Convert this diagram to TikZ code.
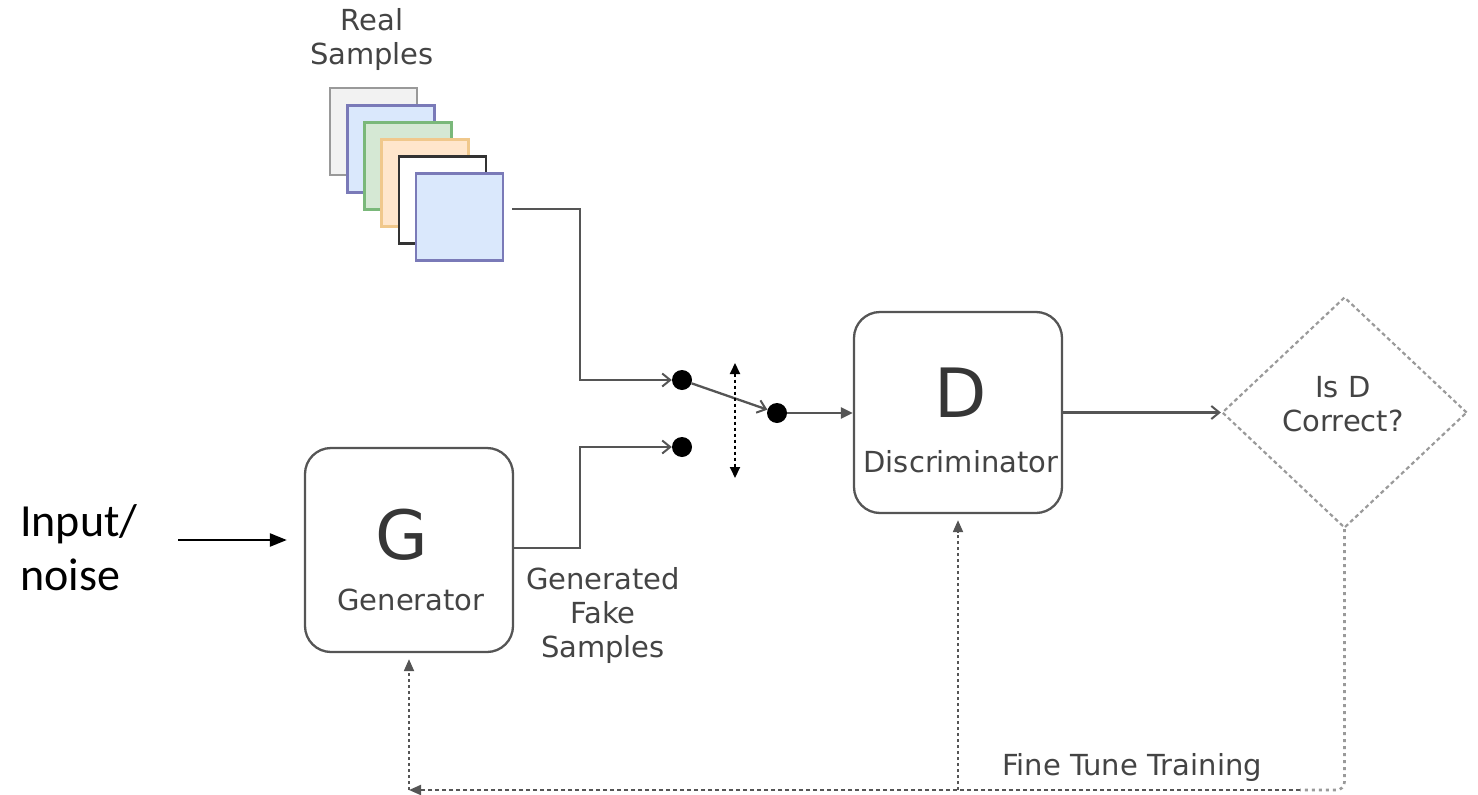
\documentclass[tikz,border=0pt]{standalone}
\usepackage{fontspec}
\setmainfont{DejaVu Sans}
\newfontfamily\calibfont{Carlito}
\usetikzlibrary{shapes.geometric,arrows.meta,calc}
\definecolor{txtgray}{HTML}{444444}
\definecolor{linegray}{HTML}{555555}
\definecolor{fbgray}{HTML}{9A9A9A}
\newcommand\lblfont{\fontsize{29}{34}\selectfont}
\tikzset{
  sq/.style={draw, line width=2.2pt, minimum width=87pt, minimum height=87pt, inner sep=0pt},
  block/.style={draw=linegray, line width=2.3pt, rounded corners=26pt, fill=white, inner sep=0pt},
  lbl/.style={text=txtgray, font=\lblfont, align=center, inner sep=0pt},
  big/.style={text=txtgray!80!black, font=\fontsize{68}{68}\selectfont, inner sep=0pt},
  inlbl/.style={anchor=base west, inner sep=0pt, font=\calibfont\fontsize{46}{46}\selectfont},
  dot/.style={circle, fill=black, minimum size=20pt, inner sep=0pt},
  conn/.style={draw=linegray, line width=2.3pt},
  openarr/.style={-{Straight Barb[length=8pt,width=13pt,line width=2pt]}},
  fillarr/.style={-{Triangle[length=12pt,width=11pt]}},
  fb/.style={draw=linegray, line width=2pt, dash pattern=on 4pt off 3pt},
  fblight/.style={draw=fbgray, line width=2.6pt, dash pattern=on 3pt off 4pt},
}
\begin{document}
\begin{tikzpicture}[x=1pt,y=-1pt]
\useasboundingbox (0,0) rectangle (1478,795);

% real samples stack
\node[sq, draw=gray!80, fill=gray!10] (sq1) at (373.5,131.5) {};
\node[sq, draw=gray!70!blue!80, fill={rgb,255:red,218;green,232;blue,252}] (sq2) at (391,149) {};
\node[sq, draw=gray!70!green!80, fill={rgb,255:red,213;green,232;blue,212}] (sq3) at (408,166) {};
\node[sq, draw={rgb,255:red,240;green,200;blue,140}, fill={rgb,255:red,255;green,230;blue,204}] (sq4) at (425,183) {};
\node[sq, draw=black!80, fill=white] (sq5) at (442.5,200) {};
\node[sq, draw=gray!70!blue!80, fill={rgb,255:red,218;green,232;blue,252}] (sq6) at (459.5,217) {};
\node[lbl] (real) at (372,39) {Real\\Samples};

% blocks
\node[block, minimum width=208pt, minimum height=204pt] (G) at (409,550) {};
\node[big] (Gl) at (402,535) {G};
\node[lbl] (Gt) at (411,600) {Generator};
\node[block, minimum width=208pt, minimum height=201pt] (D) at (958,412.5) {};
\node[big] (Dl) at (961,393) {D};
\node[lbl] (Dt) at (961,462) {Discriminator};

\node[diamond, draw=fbgray, line width=2.2pt, dash pattern=on 4pt off 3pt, minimum width=245pt, minimum height=231pt, inner sep=0pt] (dia) at (1344.5,412.5) {};
\node[lbl] (diat) at (1343,404) {Is D\\Correct?};

\node[lbl] (gfs) at (603,615) {Generated\\Fake\\Samples};
\node[lbl] (ftt) at (1132,767) {Fine Tune Training};

% input
\node[inlbl] (inp1) at (20,536) {Input/};
\node[inlbl] (inp2) at (20,590) {noise};
\coordinate (inS) at (178,540);
\draw[line width=2.4pt, -{Triangle[length=17pt,width=13pt]}, shorten >=17pt] (inS) -- (G.west |- inS);

% switch
\node[dot] (s1) at (682,380) {};
\node[dot] (s2) at (682,447) {};
\node[dot] (s3) at (777,413) {};
\coordinate (jx) at (580,0);
\coordinate (rs) at (512,209);
\draw[conn, openarr] (rs) -| (jx |- s1) -- (s1);
\draw[conn, openarr] (G.east |- 0,548) -| (jx |- s2) -- (s2);
\draw[conn, openarr] (s1) -- (s3);
\draw[conn, fillarr] (s3) -- (D.west |- s3);
\coordinate (sw1) at (735,363);
\coordinate (sw2) at (735,478);
\draw[line width=2pt, dash pattern=on 3pt off 3pt, {Triangle[length=11pt,width=10pt]}-{Triangle[length=11pt,width=10pt]}] (sw1) -- (sw2);
\draw[conn, openarr] (D.east) -- (dia.west);

% feedback
\coordinate (fbl) at (G.south |- 0,790);
\coordinate (fbd) at (958,790);
\coordinate (fbm) at (1300,790);
\draw[fblight, rounded corners=8pt] (dia.south) |- (fbm);
\draw[fb, -{Triangle[length=12pt,width=10pt]}] (fbm) -- (fbl);
\draw[fb, dash pattern=on 3pt off 3pt, -{Triangle[length=12pt,width=10pt]}, shorten >=6pt] (fbl) -- (G.south);
\draw[fb, dash pattern=on 3pt off 3pt, -{Triangle[length=12pt,width=10pt]}, shorten >=6pt] (fbd) -- (D.south);
\end{tikzpicture}
\end{document}
